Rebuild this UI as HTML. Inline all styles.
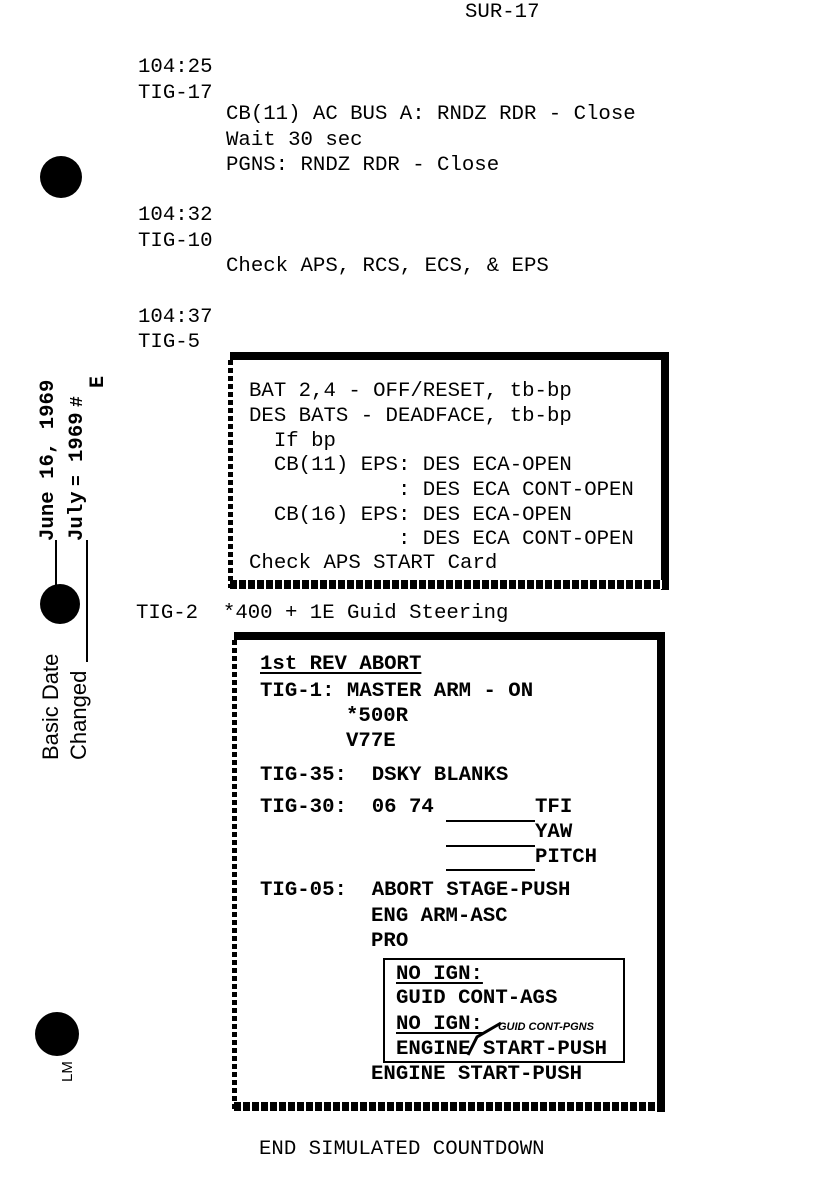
<!DOCTYPE html>
<html><head><meta charset="utf-8"><style>
body{margin:0;width:825px;height:1202px;background:#fff;position:relative;overflow:hidden;font-family:"Liberation Mono",monospace;font-size:20.7px;color:#000}
.t{position:absolute;line-height:24px;white-space:pre}
.b{font-weight:bold;font-family:"Liberation Mono",monospace}
.u{text-decoration:underline;text-underline-offset:3px}
.c{position:absolute;background:#000;border-radius:50%}
.blk{position:absolute;background:#000}
.dv{position:absolute;background:repeating-linear-gradient(to bottom,#000 0 5px,#fff 5px 8px)}
.dh{position:absolute;background:repeating-linear-gradient(to right,#000 0 7px,#fff 7px 9px)}
.rot{position:absolute;transform:rotate(-90deg);transform-origin:left top;white-space:pre;line-height:26px}
.sans{font-family:"Liberation Sans",sans-serif;font-size:22px}
</style></head><body>
<div class="t" style="left:465px;top:1px">SUR-17</div>

<div class="t" style="left:138px;top:56px">104:25</div>
<div class="t" style="left:138px;top:82px">TIG-17</div>
<div class="t" style="left:226px;top:103px">CB(11) AC BUS A: RNDZ RDR - Close</div>
<div class="t" style="left:226px;top:129px">Wait 30 sec</div>
<div class="t" style="left:226px;top:154px">PGNS: RNDZ RDR - Close</div>
<div class="t" style="left:138px;top:204px">104:32</div>
<div class="t" style="left:138px;top:230px">TIG-10</div>
<div class="t" style="left:226px;top:255px">Check APS, RCS, ECS, &amp; EPS</div>
<div class="t" style="left:138px;top:306px">104:37</div>
<div class="t" style="left:138px;top:331px">TIG-5</div>

<div class="c" style="left:40px;top:156px;width:42px;height:42px"></div>
<div class="c" style="left:40px;top:584px;width:40px;height:40px"></div>
<div class="c" style="left:35px;top:1012px;width:44px;height:44px"></div>
<div class="t" style="left:56px;top:1082px;font-size:15px;transform:rotate(-90deg);transform-origin:left top;font-family:'Liberation Sans',sans-serif">LM</div>

<div class="rot sans" style="left:38px;top:760px">Basic Date</div>
<div class="rot sans" style="left:66px;top:760px">Changed</div>
<div class="blk" style="left:55px;top:540px;width:2px;height:56px"></div>
<div class="blk" style="left:86px;top:540px;width:2px;height:122px"></div>
<div class="rot b" style="left:36px;top:541px">June 16, 1969</div>
<div class="rot b" style="left:65px;top:541px">July</div>
<div class="rot b" style="left:65px;top:486px;font-size:18px">=</div>
<div class="rot b" style="left:65px;top:462px">1969</div>
<div class="rot b" style="left:65px;top:407px;font-size:18px">#</div>
<div class="rot b" style="left:86px;top:388px;font-size:20px">E</div>

<!-- box1 -->
<div class="blk" style="left:230px;top:352px;width:439px;height:8px"></div>
<div class="blk" style="left:661px;top:352px;width:8px;height:238px"></div>
<div class="dv" style="left:228px;top:360px;width:5px;height:228px"></div>
<div class="dh" style="left:230px;top:580px;width:432px;height:9px"></div>
<div class="t" style="left:249px;top:380px">BAT 2,4 - OFF/RESET, tb-bp</div>
<div class="t" style="left:249px;top:405px">DES BATS - DEADFACE, tb-bp</div>
<div class="t" style="left:249px;top:430px">  If bp</div>
<div class="t" style="left:249px;top:454px">  CB(11) EPS: DES ECA-OPEN</div>
<div class="t" style="left:249px;top:479px">            : DES ECA CONT-OPEN</div>
<div class="t" style="left:249px;top:504px">  CB(16) EPS: DES ECA-OPEN</div>
<div class="t" style="left:249px;top:528px">            : DES ECA CONT-OPEN</div>
<div class="t" style="left:249px;top:552px">Check APS START Card</div>

<div class="t" style="left:136px;top:602px">TIG-2  *400 + 1E Guid Steering</div>

<!-- box2 -->
<div class="blk" style="left:234px;top:632px;width:431px;height:8px"></div>
<div class="blk" style="left:657px;top:632px;width:8px;height:480px"></div>
<div class="dv" style="left:232px;top:640px;width:5px;height:470px"></div>
<div class="dh" style="left:234px;top:1102px;width:424px;height:9px"></div>
<div class="t b" style="left:260px;top:653px"><span class="u">1st REV ABORT</span></div>
<div class="t b" style="left:260px;top:680px">TIG-1: MASTER ARM - ON</div>
<div class="t b" style="left:346px;top:705px">*500R</div>
<div class="t b" style="left:346px;top:730px">V77E</div>
<div class="t b" style="left:260px;top:764px">TIG-35:  DSKY BLANKS</div>
<div class="t b" style="left:260px;top:796px">TIG-30:  06 74</div>
<div class="t b" style="left:535px;top:796px">TFI</div>
<div class="t b" style="left:535px;top:821px">YAW</div>
<div class="t b" style="left:535px;top:846px">PITCH</div>
<div class="blk" style="left:446px;top:820px;width:89px;height:2px"></div>
<div class="blk" style="left:446px;top:845px;width:89px;height:2px"></div>
<div class="blk" style="left:446px;top:869px;width:89px;height:2px"></div>
<div class="t b" style="left:260px;top:879px">TIG-05:  ABORT STAGE-PUSH</div>
<div class="t b" style="left:371px;top:905px">ENG ARM-ASC</div>
<div class="t b" style="left:371px;top:930px">PRO</div>
<div style="position:absolute;left:383px;top:958px;width:238px;height:101px;border:2.5px solid #000"></div>
<div class="t b" style="left:396px;top:963px"><span class="u">NO IGN:</span></div>
<div class="t b" style="left:396px;top:987px">GUID CONT-AGS</div>
<div class="t b" style="left:396px;top:1013px"><span class="u">NO IGN:</span></div>
<div class="t b" style="left:396px;top:1038px">ENGINE START-PUSH</div>
<div class="t b" style="left:498px;top:1015px;font-family:'Liberation Sans',sans-serif;font-size:11px;font-style:italic">GUID CONT-PGNS</div>
<svg style="position:absolute;left:465px;top:1015px" width="40" height="45"><path d="M36 8 L12 22 L3 40" stroke="#000" stroke-width="3" fill="none"/></svg>
<div class="t b" style="left:371px;top:1063px">ENGINE START-PUSH</div>

<div class="t" style="left:259px;top:1138px">END SIMULATED COUNTDOWN</div>
</body></html>
